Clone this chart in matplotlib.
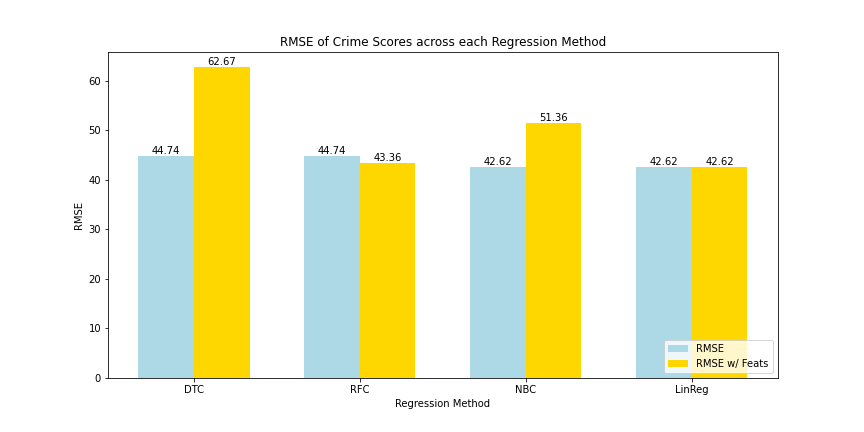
import numpy as np
import matplotlib
matplotlib.use('Agg')
import matplotlib.pyplot as plt

# Data
methods = ['DTC', 'RFC', 'NBC', 'LinReg']
rmse = [44.74, 44.74, 42.62, 42.62]
rmse_feats = [62.67, 43.36, 51.36, 42.62]

bar_width = 0.335
x = np.arange(len(methods))

fig, ax = plt.subplots(figsize=(12, 6), dpi=72)
fig.subplots_adjust(left=0.125, right=0.9, top=0.88, bottom=0.125)

bars1 = ax.bar(x - bar_width / 2, rmse, bar_width, color='lightblue', label='RMSE')
bars2 = ax.bar(x + bar_width / 2, rmse_feats, bar_width, color='gold', label='RMSE w/ Feats')

# Value labels on top of each bar
for bars in (bars1, bars2):
    for b in bars:
        h = b.get_height()
        ax.text(b.get_x() + b.get_width() / 2, h, '%.2f' % h,
                ha='center', va='bottom', fontsize=10)

ax.set_xticks(x)
ax.set_xticklabels(methods)
ax.set_xlabel('Regression Method')
ax.set_ylabel('RMSE')
ax.set_title('RMSE of Crime Scores across each Regression Method')
ax.legend(loc='lower right')

fig.savefig('out.png', dpi=72)
